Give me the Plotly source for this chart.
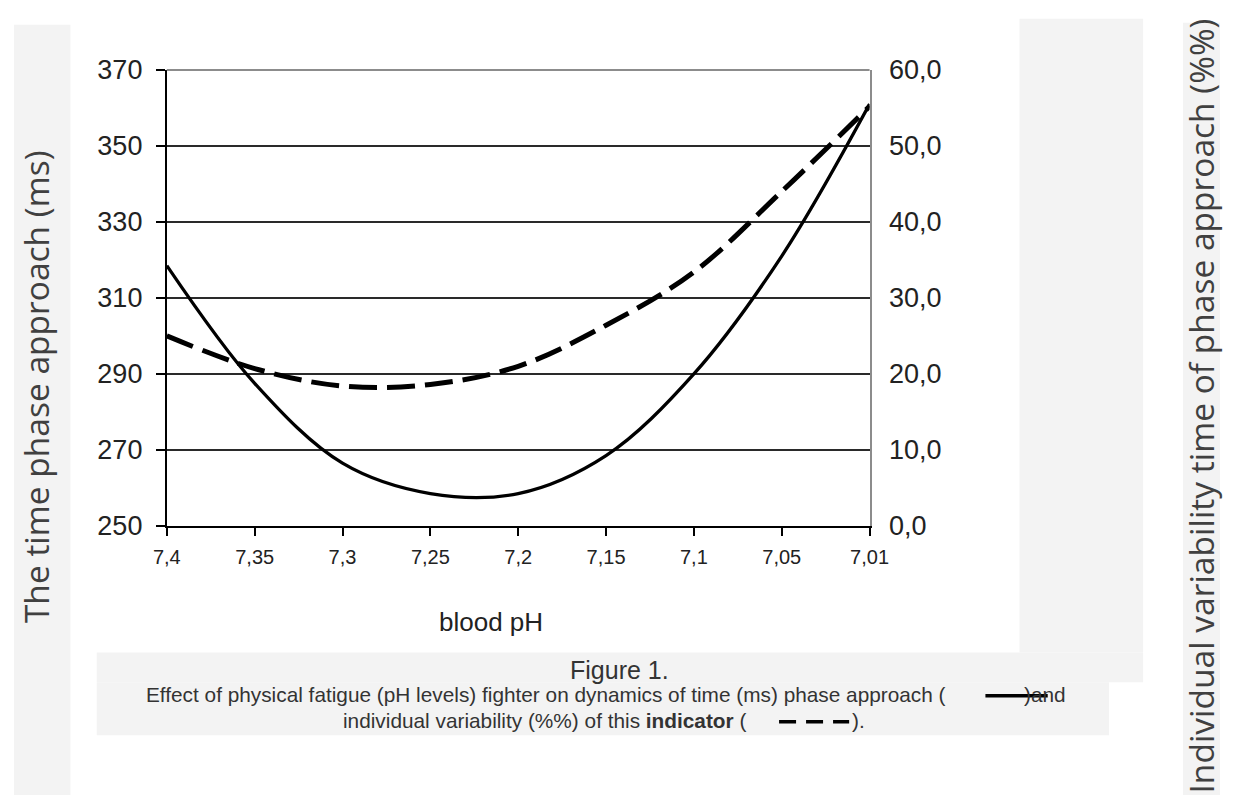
import plotly.graph_objects as go

W, H = 1239, 810

# ---- data ----
ph_categories = ["7,4", "7,35", "7,3", "7,25", "7,2", "7,15", "7,1", "7,05", "7,01"]
time_phase_ms = [318.5, 287.5, 266.5, 258.5, 258.5, 268.5, 290, 321, 361]
variability_pct = [25, 20.7, 18.4, 18.6, 21, 26.4, 33.4, 44, 55.2]

left_tickvals = [250, 270, 290, 310, 330, 350, 370]
left_ticktext = ["250", "270", "290", "310", "330", "350", "370"]
right_tickvals = [0, 10, 20, 30, 40, 50, 60]
right_ticktext = ["0,0", "10,0", "20,0", "30,0", "40,0", "50,0", "60,0"]


def px(x):
    return x / W


def py(y):
    return 1 - y / H


TICKFONT = "Liberation Sans, Arial, sans-serif"
TITLEFONT = "Open Sans, Noto Sans, sans-serif"

fig = go.Figure()
fig.add_trace(go.Scatter(
    x=ph_categories, y=time_phase_ms, mode="lines",
    line=dict(color="#000000", width=3.3, shape="spline", smoothing=1.0),
    yaxis="y", showlegend=False, hoverinfo="skip"))
fig.add_trace(go.Scatter(
    x=ph_categories, y=variability_pct, mode="lines",
    line=dict(color="#000000", width=5, dash="28px,10px", shape="spline", smoothing=1.0),
    yaxis="y2", showlegend=False, hoverinfo="skip"))

x0, x1 = 157, 879
yb, yt = 530.5, 57

shapes = []
grey = "#f3f3f3"
# background grey panels of the page
for (a, b, c, d) in [(0, 10, 58, 810), (1201, 8, 1239, 810), (1033, 4, 1160, 662),
                     (85, 662, 1160, 693), (85, 693, 1125, 748)]:
    shapes.append(dict(type="rect", xref="paper", yref="paper", x0=px(a), x1=px(c),
                       y0=py(d), y1=py(b), fillcolor=grey, line=dict(width=0), layer="below"))
# plot border (top, grey)
shapes.append(dict(type="line", xref="paper", yref="paper", x0=px(x0), x1=px(x1),
                   y0=py(yt), y1=py(yt), line=dict(color="#8c8c8c", width=2), layer="above"))

CAP = dict(family=TICKFONT, size=20.8, color="#333333")
annotations = [
    dict(text="The time phase approach (ms)", x=px(22), y=py(386), xref="paper", yref="paper",
         textangle=-90, showarrow=False, xanchor="center", yanchor="middle",
         font=dict(family=TITLEFONT, size=33.5, color="#404040")),
    dict(text="Individual variability time of phase approach (%%)", x=px(1219), y=py(406),
         xref="paper", yref="paper", textangle=-90, showarrow=False,
         xanchor="center", yanchor="middle",
         font=dict(family=TITLEFONT, size=33.5, color="#404040")),
    dict(text="blood pH", x=px(490), y=py(630), xref="paper", yref="paper", showarrow=False,
         xanchor="center", yanchor="middle", font=dict(family=TICKFONT, size=26, color="#222222")),
    dict(text="Figure 1.", x=px(622), y=py(680), xref="paper", yref="paper", showarrow=False,
         xanchor="center", yanchor="middle", font=dict(family=TICKFONT, size=25, color="#333333")),
    dict(text="Effect of physical fatigue (pH levels) fighter on dynamics of time (ms) phase approach (",
         x=px(134), y=py(706), xref="paper", yref="paper", showarrow=False,
         xanchor="left", yanchor="middle", font=CAP),
    dict(text=")and", x=px(1036), y=py(706), xref="paper", yref="paper", showarrow=False,
         xanchor="left", yanchor="middle", font=CAP),
    dict(text="individual variability (%%) of this <b>indicator</b> (",
         x=px(336), y=py(733), xref="paper", yref="paper", showarrow=False,
         xanchor="left", yanchor="middle", font=CAP),
    dict(text=").", x=px(859), y=py(733), xref="paper", yref="paper", showarrow=False,
         xanchor="left", yanchor="middle", font=CAP),
]

fig.update_layout(
    width=W, height=H, margin=dict(l=0, r=0, t=0, b=0, pad=0),
    paper_bgcolor="#ffffff", plot_bgcolor="#ffffff",
    showlegend=False,
    xaxis=dict(domain=[px(x0), px(x1)], type="category", range=[0, 8],
               showline=True, linecolor="#000000", linewidth=2,
               ticks="outside", ticklen=8, tickwidth=2, tickcolor="#000000",
               showgrid=False, zeroline=False, ticklabelstandoff=4,
               tickfont=dict(family=TICKFONT, size=20, color="#222222")),
    yaxis=dict(domain=[py(yb), py(yt)], range=[250, 370],
               tickvals=left_tickvals, ticktext=left_ticktext,
               showline=True, linecolor="#000000", linewidth=2,
               ticks="outside", ticklen=9, tickwidth=2, tickcolor="#000000",
               showgrid=True, gridcolor="#2a2a2a", gridwidth=2, zeroline=False,
               ticklabelstandoff=8,
               tickfont=dict(family=TICKFONT, size=27, color="#222222")),
    yaxis2=dict(overlaying="y", side="right", range=[0, 60],
                tickvals=right_tickvals, ticktext=right_ticktext,
                showline=True, linecolor="#8c8c8c", linewidth=2,
                ticks="", showgrid=False, zeroline=False, ticklabelstandoff=12,
                tickfont=dict(family=TICKFONT, size=27, color="#222222")),
    shapes=shapes, annotations=annotations,
)

# caption legend symbols (drawn above the caption text)
fig.add_shape(type="line", xref="paper", yref="paper", x0=px(998), x1=px(1062),
              y0=py(707), y1=py(707), line=dict(color="#000000", width=3.5), layer="above")
fig.add_shape(type="line", xref="paper", yref="paper", x0=px(786), x1=px(858),
              y0=py(734), y1=py(734), line=dict(color="#000000", width=3.5, dash="17px,10px"),
              layer="above")

fig.write_html("out.html",
               config={"displayModeBar": False, "staticPlot": True},
               post_script="document.body.style.margin='0';"
                           "document.documentElement.style.overflow='hidden';")
